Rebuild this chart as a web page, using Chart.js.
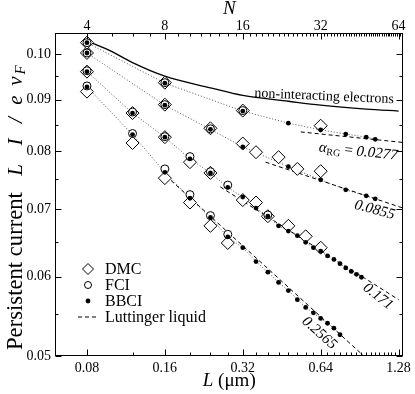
<!DOCTYPE html>
<html><head><meta charset="utf-8">
<script src="https://cdn.jsdelivr.net/npm/chart.js@4.4.0/dist/chart.umd.min.js"></script>
<style>html,body{margin:0;padding:0;background:#fff}</style>
</head><body>
<canvas id="c" width="415" height="394"></canvas>
<script>
// ---------------- data ----------------
const L_PER_N = 0.02;                 // L (um) per electron (top axis N, bottom axis L)
const lTicks = [0.08, 0.16, 0.32, 0.64, 1.28];
const nTicks = [4, 8, 16, 32, 64];
const yTicks = [0.05, 0.06, 0.07, 0.08, 0.09, 0.10];
const yMinorTicks = [0.055, 0.065, 0.075, 0.085, 0.095];
const xRange = [0.0602, 1.337];
const yRange = [0.05, 0.1049];

const nonIntN = [4, 5, 6, 8, 12, 16, 24, 32, 48, 64];
const nonIntI = [0.1030, 0.1005, 0.0980, 0.0950, 0.0925, 0.0909, 0.0897, 0.0889, 0.0881, 0.0877];

const dmcN1 = [4, 8, 16, 32];
const dmcI1 = [0.1026, 0.0936, 0.0878, 0.0848];
const dmcN2 = [4, 8, 12, 16, 18, 22, 26, 32];
const dmcI2 = [0.1002, 0.0890, 0.0843, 0.0814, 0.0798, 0.0789, 0.0768, 0.0764];
const dmcN3 = [4, 6, 8, 10, 12, 16, 18, 20, 24, 28, 32];
const dmcI3 = [0.0960, 0.0873, 0.0826, 0.0780, 0.0761, 0.0715, 0.0711, 0.0689, 0.0674, 0.0658, 0.0641];
const dmcN4 = [4, 6, 8, 10, 12, 14];
const dmcI4 = [0.0917, 0.0815, 0.0752, 0.0711, 0.0674, 0.0648];

const fciN1 = [4, 8, 16];
const fciI1 = [0.1026, 0.0936, 0.0878];
const fciN2 = [4, 8, 12];
const fciI2 = [0.1002, 0.0890, 0.0842];
const fciN3 = [4, 6, 8, 10, 12, 14, 20];
const fciI3 = [0.0962, 0.0875, 0.0827, 0.0790, 0.0763, 0.0740, 0.0691];
const fciN4 = [4, 6, 8, 10, 12, 14];
const fciI4 = [0.0929, 0.0833, 0.0768, 0.0724, 0.0690, 0.0661];

const bbciN1 = [4, 8, 16, 24, 32, 40, 48, 52];
const bbciI1 = [0.1026, 0.0935, 0.0877, 0.0853, 0.0840, 0.0832, 0.0826, 0.0822];
const bbciN2 = [4, 8, 12, 16, 24, 32, 40, 48, 52];
const bbciI2 = [0.1002, 0.0889, 0.0841, 0.0808, 0.0772, 0.0749, 0.0732, 0.0722, 0.0717];
const bbciN3 = [4, 6, 8, 10, 12, 14, 16, 18, 20, 22, 24, 26, 28, 30, 32, 34, 36, 38, 40, 42, 44, 46];
const bbciI3 = [0.0960, 0.0873, 0.0826, 0.0786, 0.0761, 0.0736, 0.0720, 0.0702, 0.0689, 0.0674, 0.0666,
                0.0659, 0.0649, 0.0641, 0.0636, 0.0629, 0.0624, 0.0618, 0.0612, 0.0607, 0.0603, 0.0599];
const bbciN4 = [4, 6, 8, 10, 12, 14, 16, 18, 20, 22, 24, 26, 28, 30, 32, 34, 36, 38];
const bbciI4 = [0.0927, 0.0831, 0.0762, 0.0718, 0.0687, 0.0657, 0.0641, 0.0621, 0.0606, 0.0592, 0.0581,
                0.0569, 0.0559, 0.0552, 0.0545, 0.0539, 0.0533, 0.0525];

// Luttinger-liquid fits (end points)
const llN1 = [26.8, 70];  const llI1 = [0.0836, 0.0815];
const llN2 = [19.6, 70];  const llI2 = [0.0780, 0.0699];
const llN3 = [13.1, 64];  const llI3 = [0.0737, 0.0569];
const llN4 = [8.07, 48];  const llI4 = [0.0756, 0.04975];
const alphaLabels = ['0.0277', '0.0855', '0.171', '0.2565'];
// label anchor points (N, I) and rotations
const alphaAtN = [44.7, 51.7, 53.3, 31.6];
const alphaAtI = [0.0799, 0.0699, 0.0573, 0.0527];
const alphaRot = [6, 15, 38, 42];
const nonIntLabelN = 33.0, nonIntLabelI = 0.0907;

// ---------------- build ----------------
const pts = (ns, is) => ns.map((n, i) => ({x: n * L_PER_N, y: is[i]}));
const SERIF = "'Liberation Serif','Times New Roman',serif";
const datasets = [];
function add(d) { datasets.push(Object.assign({xAxisID: 'x', yAxisID: 'y'}, d)); }

add({data: pts(nonIntN, nonIntI), showLine: true, borderColor: '#000', borderWidth: 1.3,
     pointRadius: 0, cubicInterpolationMode: 'monotone', order: 10});
[[bbciN1, bbciI1], [bbciN2, bbciI2], [bbciN3, bbciI3], [bbciN4, bbciI4]].forEach(([n, i]) =>
  add({data: pts(n, i), showLine: true, borderColor: '#555', borderWidth: 1, borderDash: [1, 2],
       pointRadius: 0, order: 9}));
[[llN1, llI1], [llN2, llI2], [llN3, llI3], [llN4, llI4]].forEach(([n, i]) =>
  add({data: pts(n, i), showLine: true, borderColor: '#000', borderWidth: 1, borderDash: [4, 3],
       pointRadius: 0, order: 8}));
[[dmcN1, dmcI1], [dmcN2, dmcI2], [dmcN3, dmcI3], [dmcN4, dmcI4]].forEach(([n, i]) =>
  add({data: pts(n, i), showLine: false, pointStyle: 'rectRot', pointRadius: 6.5,
       pointBackgroundColor: '#fff', pointBorderColor: '#000', pointBorderWidth: 1, order: 3}));
[[fciN1, fciI1], [fciN2, fciI2], [fciN3, fciI3], [fciN4, fciI4]].forEach(([n, i]) =>
  add({data: pts(n, i), showLine: false, pointStyle: 'circle', pointRadius: 4,
       pointBackgroundColor: '#fff', pointBorderColor: '#000', pointBorderWidth: 1, order: 2}));
[[bbciN1, bbciI1], [bbciN2, bbciI2], [bbciN3, bbciI3], [bbciN4, bbciI4]].forEach(([n, i]) =>
  add({data: pts(n, i), showLine: false, pointStyle: 'circle', pointRadius: 2.4,
       pointBackgroundColor: '#000', pointBorderColor: '#000', pointBorderWidth: 0, order: 1}));

function drawRich(ctx, parts, x, y) {
  let total = 0;
  parts.forEach(p => { ctx.font = p.f; p.w = ctx.measureText(p.t).width; total += p.w; });
  let cx = x - total / 2;
  parts.forEach(p => { ctx.font = p.f; ctx.fillText(p.t, cx, y + (p.dy || 0)); cx += p.w; });
}

const decor = {
  id: 'decor',
  afterDatasetsDraw(chart) {
    const {ctx, chartArea: a, scales} = chart;
    const sx = scales.x, sy = scales.y, sn = scales.x2;
    ctx.save();
    ctx.strokeStyle = '#000'; ctx.fillStyle = '#000'; ctx.lineWidth = 1;
    const seg = (x1, y1, x2, y2) => { ctx.beginPath(); ctx.moveTo(x1, y1); ctx.lineTo(x2, y2); ctx.stroke(); };
    // frame
    ctx.strokeRect(Math.round(a.left) + 0.5, Math.round(a.top) + 0.5,
                   Math.round(a.right - a.left) - 1, Math.round(a.bottom - a.top) - 1);
    const L = Math.round(a.left) + 0.5, R = Math.round(a.right) - 0.5,
          T = Math.round(a.top) + 0.5, B = Math.round(a.bottom) - 0.5;
    // y ticks left/right
    yTicks.forEach(v => { const p = Math.round(sy.getPixelForValue(v)) + 0.5; seg(L, p, L + 6, p); seg(R, p, R - 6, p); });
    yMinorTicks.forEach(v => { const p = Math.round(sy.getPixelForValue(v)) + 0.5; seg(L, p, L + 3, p); seg(R, p, R - 3, p); });
    // bottom ticks (L)
    for (let k = 2; k <= 33; k++) {
      const v = k * 0.04;
      if (v < xRange[0] || v > xRange[1]) continue;
      const p = Math.round(sx.getPixelForValue(v)) + 0.5;
      const major = lTicks.some(t => Math.abs(t - v) < 1e-6);
      seg(p, B, p, B - (major ? 6 : 3));
    }
    // top ticks (N)
    for (let n = 3; n <= 67; n++) {
      if (n < sn.min || n > sn.max) continue;
      const p = Math.round(sn.getPixelForValue(n)) + 0.5;
      seg(p, T, p, T + (nTicks.includes(n) ? 6 : 3));
    }
    // axis titles
    ctx.textBaseline = 'middle'; ctx.textAlign = 'left';
    drawRich(ctx, [{t: 'N', f: `italic 19px ${SERIF}`}], (a.left + a.right) / 2, 9);
    drawRich(ctx, [{t: 'L', f: `italic 19px ${SERIF}`}, {t: ' (μm)', f: `19px ${SERIF}`}], (a.left + a.right) / 2, 381);
    // y title (rotated); positions along the axis in page pixels
    ctx.save();
    ctx.translate(16, 0);
    ctx.rotate(-Math.PI / 2);
    ctx.textAlign = 'left';
    ctx.font = `22px ${SERIF}`;
    const w22 = ctx.measureText('Persistent current').width;
    const fs = Math.max(19, Math.min(25, 22 * 158 / w22));
    ctx.font = `${fs}px ${SERIF}`;
    ctx.fillText('Persistent current', -350, 0);
    ctx.textAlign = 'center';
    const glyphs = [['L', 170], ['I', 142], ['/', 120], ['e', 100], ['v', 81]];
    ctx.font = `italic 21px ${SERIF}`;
    glyphs.forEach(([g, yy]) => ctx.fillText(g, -yy, 0));
    ctx.font = `italic 15px ${SERIF}`;
    ctx.fillText('F', -70, 5);
    ctx.restore();
    // annotations
    const at = (n, i) => [sx.getPixelForValue(n * L_PER_N), sy.getPixelForValue(i)];
    ctx.textBaseline = 'middle'; ctx.textAlign = 'left';
    let [px, py] = at(nonIntLabelN, nonIntLabelI);
    ctx.save(); ctx.translate(px, py); ctx.rotate(2.5 * Math.PI / 180);
    drawRich(ctx, [{t: 'non-interacting electrons', f: `14px ${SERIF}`}], 0, 0);
    ctx.restore();
    alphaLabels.forEach((lab, k) => {
      const [qx, qy] = at(alphaAtN[k], alphaAtI[k]);
      ctx.save(); ctx.translate(qx, qy); ctx.rotate(alphaRot[k] * Math.PI / 180);
      const parts = k === 0
        ? [{t: 'α', f: `italic 15px ${SERIF}`}, {t: 'RG', f: `10px ${SERIF}`, dy: 4},
           {t: ' = ', f: `15px ${SERIF}`}, {t: lab, f: `italic 15px ${SERIF}`}]
        : [{t: lab, f: `italic 15px ${SERIF}`}];
      drawRich(ctx, parts, 0, 0);
      ctx.restore();
    });
    // legend
    const lx = a.left + 33, tx = a.left + 50;
    const rows = [a.bottom - 87, a.bottom - 71, a.bottom - 55, a.bottom - 39];
    ctx.lineWidth = 1;
    let r = 5.5, y0 = rows[0];
    ctx.beginPath(); ctx.moveTo(lx - r, y0); ctx.lineTo(lx, y0 - r); ctx.lineTo(lx + r, y0); ctx.lineTo(lx, y0 + r); ctx.closePath();
    ctx.fillStyle = '#fff'; ctx.fill(); ctx.stroke();
    ctx.beginPath(); ctx.arc(lx, rows[1], 3.5, 0, Math.PI * 2); ctx.fill(); ctx.stroke();
    ctx.fillStyle = '#000';
    ctx.beginPath(); ctx.arc(lx, rows[2], 2.4, 0, Math.PI * 2); ctx.fill();
    ctx.setLineDash([4, 3]); seg(lx - 10, rows[3], lx + 11, rows[3]); ctx.setLineDash([]);
    ctx.textAlign = 'left'; ctx.font = `16px ${SERIF}`;
    ['DMC', 'FCI', 'BBCI', 'Luttinger liquid'].forEach((t, k) => ctx.fillText(t, tx, rows[k] + 1));
    ctx.restore();
  }
};

new Chart(document.getElementById('c'), {
  type: 'scatter',
  data: {datasets},
  options: {
    responsive: false, animation: false, events: [],
    layout: {padding: {left: 0, right: 8, top: 0, bottom: 0}},
    plugins: {legend: {display: false}, tooltip: {enabled: false}},
    scales: {
      x: {type: 'logarithmic', position: 'bottom', min: xRange[0], max: xRange[1],
          afterFit: s => { s.height = 38; },
          afterBuildTicks: s => { s.ticks = lTicks.map(v => ({value: v})); },
          grid: {display: false, drawTicks: false}, border: {display: false},
          ticks: {padding: 4, color: '#000', font: {family: SERIF, size: 14}, maxRotation: 0, autoSkip: false,
                  callback: v => Number(v).toFixed(2)}},
      x2: {type: 'logarithmic', position: 'top', min: xRange[0] / L_PER_N, max: xRange[1] / L_PER_N,
          afterFit: s => { s.height = 33; },
          afterBuildTicks: s => { s.ticks = nTicks.map(v => ({value: v})); },
          grid: {display: false, drawTicks: false}, border: {display: false},
          ticks: {padding: -2, color: '#000', font: {family: SERIF, size: 14}, maxRotation: 0, autoSkip: false,
                  callback: v => String(Math.round(v))}},
      y: {type: 'logarithmic', position: 'left', min: yRange[0], max: yRange[1],
          afterFit: s => { s.width = 55; },
          afterBuildTicks: s => { s.ticks = yTicks.map(v => ({value: v})); },
          grid: {display: false, drawTicks: false}, border: {display: false},
          ticks: {padding: 4, color: '#000', font: {family: SERIF, size: 14}, autoSkip: false,
                  callback: v => Number(v).toFixed(2)}}
    }
  },
  plugins: [decor]
});
</script>
</body></html>
